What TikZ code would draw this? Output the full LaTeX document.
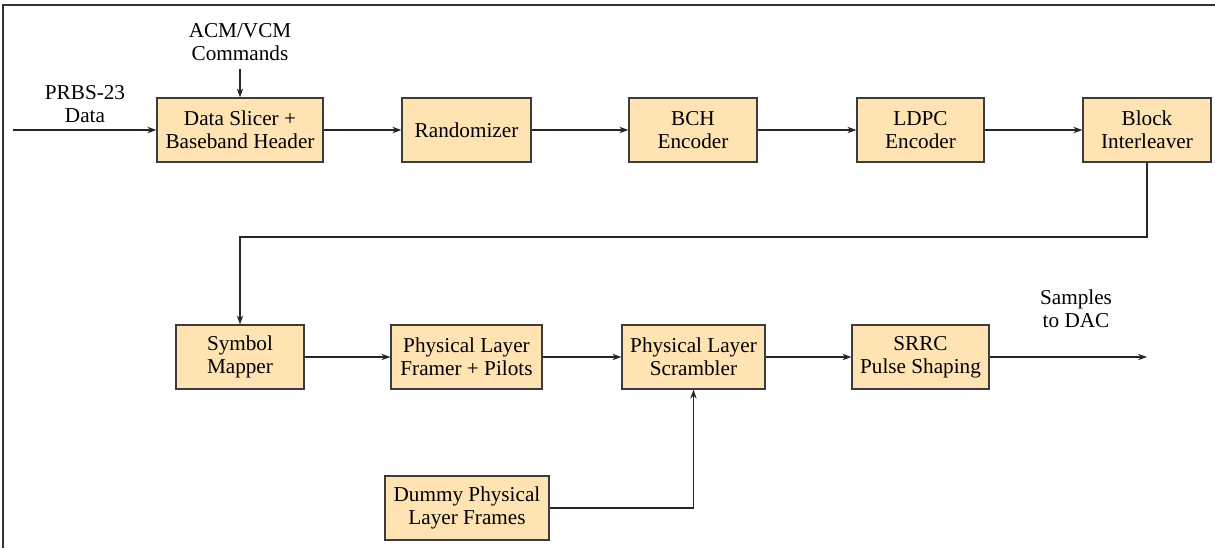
\documentclass[tikz,border=0pt]{standalone}
\usepackage{fontspec}
\setmainfont{Liberation Serif}
\usetikzlibrary{arrows.meta}
\definecolor{boxfill}{RGB}{255,227,179}
\definecolor{boxline}{RGB}{60,60,60}
\tikzset{
  blk/.style={draw=boxline, fill=boxfill, line width=0.6pt, minimum height=32pt, align=center, inner sep=1pt, font=\rmfamily\fontsize{10.6}{11.5}\selectfont},
  lbl/.style={align=center, inner sep=0pt, font=\rmfamily\fontsize{10.6}{11.5}\selectfont},
  conn/.style={draw=black!85, line width=0.6pt, -{Stealth[length=4.5pt,width=3.2pt]}},
  frameline/.style={draw=black!80, line width=0.7pt}
}
\begin{document}
\begin{tikzpicture}[x=0.5pt,y=-0.5pt]
\useasboundingbox (0,0) rectangle (1215,548);
% frame
\coordinate (fTL) at (3,5);
\coordinate (fTR) at (1215,5);
\coordinate (fBL) at (3,548);
\draw[frameline] (fBL) -- (fTL) -- (fTR);

% top row
\node[blk, minimum width=83pt] (slicer) at (240,130) {Data Slicer +\\Baseband Header};
\node[blk, minimum width=64.5pt] (rand) at (466.5,130) {Randomizer};
\node[blk, minimum width=64pt] (bch) at (693,130) {BCH\\Encoder};
\node[blk, minimum width=63.5pt] (ldpc) at (920.5,130) {LDPC\\Encoder};
\node[blk, minimum width=64pt] (inter) at (1147,130) {Block\\Interleaver};

% second row
\node[blk, minimum width=64pt] (sym) at (240,357) {Symbol\\Mapper};
\node[blk, minimum width=75.5pt] (framer) at (466.5,357) {Physical Layer\\Framer + Pilots};
\node[blk, minimum width=71.5pt] (scr) at (693.5,357) {Physical Layer\\Scrambler};
\node[blk, minimum width=68.5pt] (srrc) at (920.5,357) {SRRC\\Pulse Shaping};

% dummy
\node[blk, minimum width=82pt] (dummy) at (467,508) {Dummy Physical\\Layer Frames};

% labels
\node[lbl] (prbs) at (85,104.5) {PRBS-23\\Data};
\node[lbl] (acm) at (240,42) {ACM/VCM\\Commands};
\node[lbl] (samp) at (1076,309) {Samples\\to DAC};

% free ends
\coordinate (inS) at (13,130);
\coordinate (acmS) at (240,69);
\coordinate (outE) at (1147,357);
\coordinate (turnR) at (1147,237);

% connectors
\draw[conn] (inS) -- (slicer.west);
\draw[conn] (acmS) -- (slicer.north);
\draw[conn] (slicer) -- (rand);
\draw[conn] (rand) -- (bch);
\draw[conn] (bch) -- (ldpc);
\draw[conn] (ldpc) -- (inter);
\draw[conn] (inter.south) -- (turnR) -| (sym.north);
\draw[conn] (sym) -- (framer);
\draw[conn] (framer) -- (scr);
\draw[conn] (scr) -- (srrc);
\draw[conn] (srrc.east) -- (outE);
\draw[conn] (dummy.east) -| (scr.south);
\end{tikzpicture}
\end{document}
